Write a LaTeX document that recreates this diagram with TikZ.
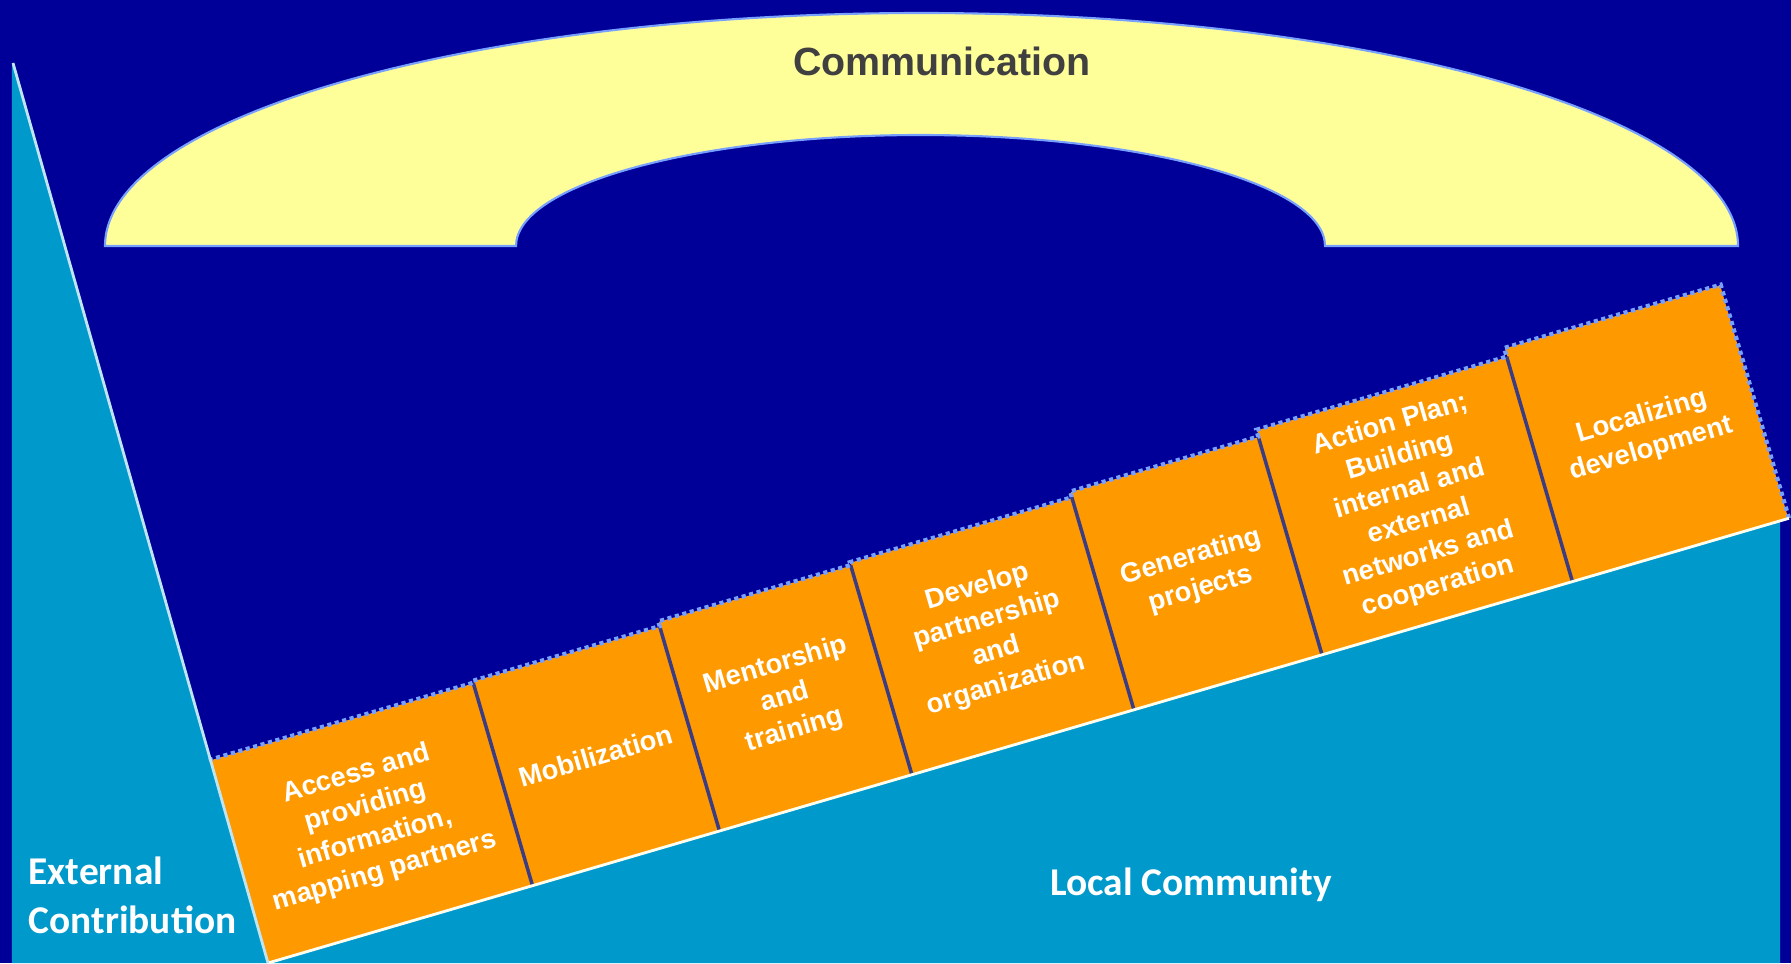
\documentclass[tikz,border=0pt]{standalone}
\usepackage{fontspec}
\setmainfont{Liberation Sans}
\newfontfamily\carlito{Carlito}
\usepackage{tikz}
\definecolor{night}{RGB}{0,0,153}
\definecolor{sky}{RGB}{0,153,204}
\definecolor{amber}{RGB}{255,153,0}
\definecolor{cream}{RGB}{255,255,153}
\definecolor{slate}{RGB}{60,60,130}
\definecolor{rim}{RGB}{120,160,255}
\definecolor{ink}{RGB}{64,64,64}

\begin{document}
\begin{tikzpicture}[
  cell/.style={fill=amber,rotate=16.3,anchor=south west,inner sep=0pt,align=center,
    text=white,font=\bfseries\fontsize{7.8}{9.6}\selectfont},
  divider/.style={draw=slate,line width=1pt},
  rimline/.style={draw=rim,densely dotted,line width=1.2pt},
  areatext/.style={text=white,font=\carlito\bfseries\fontsize{11.2}{14}\selectfont}]
  \fill[night] (0,0) rectangle (17.91,9.63);
  \useasboundingbox (0,0) rectangle (17.91,9.63);
  \coordinate (apex) at (0.13,9.0);
  \fill[sky] (0.12,0) -- (0.12,8.97) -- (apex) -- (2.68,0) -- (17.8,4.42) -- (17.8,0) -- cycle;
  % communication arch
  \filldraw[fill=cream,draw=rim,line width=0.6pt] (1.05,7.17)
    arc[start angle=180,end angle=0,x radius=8.165,y radius=2.33] -- (13.25,7.17)
    arc[start angle=0,end angle=180,x radius=4.045,y radius=1.11] -- cycle;
  \node[font=\bfseries\fontsize{11.2}{13}\selectfont,text=ink] (comm) at (9.42,9.02) {Communication};
  % steps
  \node[cell,minimum width=2.742cm,minimum height=2.10cm] (c1) at (2.68,0)
    {Access and\\providing\\information,\\mapping partners};
  \node[cell,minimum width=1.934cm,minimum height=2.12cm] (c2) at (c1.south east) {Mobilization};
  \node[cell,minimum width=1.991cm,minimum height=2.17cm] (c3) at (c2.south east) {Mentorship\\and\\training};
  \node[cell,minimum width=2.299cm,minimum height=2.20cm] (c4) at (c3.south east)
    {Develop\\partnership\\and\\organization};
  \node[cell,minimum width=1.946cm,minimum height=2.26cm] (c5) at (c4.south east) {Generating\\projects};
  \node[cell,minimum width=2.595cm,minimum height=2.33cm] (c6) at (c5.south east)
    {Action Plan;\\Building\\internal and\\external\\networks and\\cooperation};
  \node[cell,minimum width=2.242cm,minimum height=2.42cm] (c7) at (c6.south east) {Localizing\\development};
  \foreach \c in {c1,c2,c3,c4,c5,c6}
    \draw[divider] (\c.south east) -- (\c.north east);
  \draw[rimline] (c1.north west) -- (c1.north east) -- (c2.north west) -- (c2.north east)
    -- (c3.north west) -- (c3.north east) -- (c4.north west) -- (c4.north east)
    -- (c5.north west) -- (c5.north east) -- (c6.north west) -- (c6.north east)
    -- (c7.north west) -- (c7.north east) -- (c7.south east);
  \draw[white!85!cream,line width=0.8pt] (c1.south west) -- (c7.south east);
  \draw[sky!25!white,line width=0.8pt] (apex) -- (c1.south west);
  \node[areatext,align=left,anchor=west,inner sep=0pt] (ext) at (0.28,0.68) {External\\Contribution};
  \node[areatext] (local) at (11.91,0.78) {Local Community};
\end{tikzpicture}
\end{document}
